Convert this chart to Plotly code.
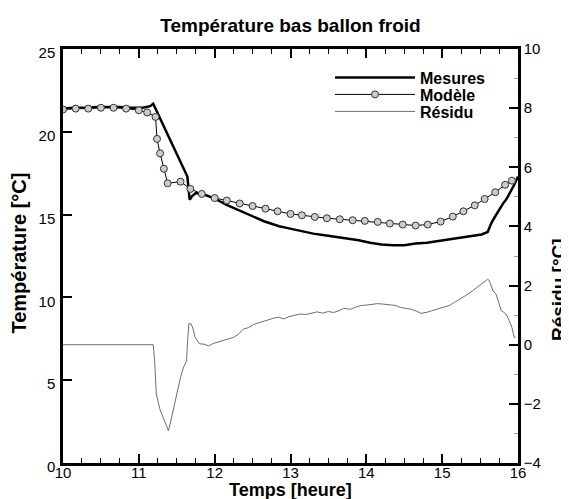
import plotly.graph_objects as go

# Mesures (left axis, °C)
mes_t = [10.0, 10.15, 10.3, 10.45, 10.6, 10.75, 10.9, 11.05, 11.15, 11.19,
         11.25, 11.33, 11.42, 11.5, 11.58, 11.64, 11.67, 11.7, 11.75, 11.8,
         11.87, 11.95, 12.05, 12.15, 12.25, 12.35, 12.45, 12.55, 12.65, 12.75,
         12.85, 12.95, 13.05, 13.15, 13.3, 13.45, 13.6, 13.75, 13.9, 14.05,
         14.2, 14.35, 14.5, 14.65, 14.8, 14.95, 15.1, 15.25, 15.4, 15.52,
         15.6, 15.65, 15.7, 15.75, 15.8, 15.85, 15.9, 15.95, 16.0]
mes_v = [21.4, 21.45, 21.45, 21.5, 21.5, 21.5, 21.45, 21.45, 21.55, 21.7,
         21.1, 20.3, 19.4, 18.6, 17.8, 17.3, 15.9, 16.1, 16.3, 16.25,
         16.2, 16.05, 15.85, 15.6, 15.4, 15.2, 15.0, 14.8, 14.6, 14.45,
         14.3, 14.2, 14.1, 14.0, 13.85, 13.75, 13.65, 13.55, 13.45, 13.3,
         13.2, 13.15, 13.15, 13.25, 13.3, 13.4, 13.5, 13.6, 13.7, 13.8,
         13.95, 14.5, 14.9, 15.3, 15.65, 15.95, 16.35, 16.8, 17.3]

# Modèle (left axis, °C)
mod_t = [10.0, 10.167, 10.333, 10.5, 10.667, 10.833, 11.0, 11.11, 11.22, 11.24,
         11.28, 11.33, 11.38, 11.55, 11.68, 11.83, 12.0, 12.16, 12.33, 12.5,
         12.67, 12.83, 13.0, 13.15, 13.32, 13.48, 13.65, 13.82, 13.98, 14.15,
         14.31, 14.48, 14.65, 14.81, 14.98, 15.14, 15.28, 15.43, 15.56, 15.70,
         15.83, 15.92]
mod_v = [21.35, 21.4, 21.4, 21.45, 21.45, 21.4, 21.3, 21.17, 20.9, 19.57,
         18.7, 17.77, 16.89, 16.99, 16.55, 16.25, 16.0, 15.85, 15.67, 15.52,
         15.36, 15.2, 15.04, 14.96, 14.86, 14.78, 14.72, 14.66, 14.62, 14.56,
         14.46, 14.40, 14.34, 14.40, 14.58, 14.88, 15.2, 15.56, 15.94, 16.35,
         16.8, 17.05]

# Résidu (right axis, °C)
res_t = [10.0, 11.19, 11.21, 11.23, 11.28, 11.35, 11.39, 11.42, 11.46, 11.51,
         11.55, 11.59, 11.63, 11.64, 11.66, 11.69, 11.72, 11.74, 11.77, 11.80,
         11.86, 11.92, 11.98, 12.03, 12.1, 12.16, 12.25, 12.31, 12.38, 12.45,
         12.51, 12.58, 12.65, 12.72, 12.78, 12.85, 12.91, 12.98, 13.05, 13.13,
         13.2, 13.28, 13.35, 13.42, 13.5, 13.57, 13.64, 13.70, 13.79, 13.86,
         13.92, 14.0, 14.08, 14.15, 14.23, 14.3, 14.38, 14.45, 14.52, 14.59,
         14.66, 14.72, 14.8, 14.89, 14.96, 15.03, 15.1, 15.16, 15.22, 15.28,
         15.34, 15.4, 15.46, 15.51, 15.56, 15.60, 15.62, 15.65, 15.67, 15.71,
         15.74, 15.78, 15.81, 15.84, 15.87, 15.89, 15.92, 15.95, 15.97]
res_v = [0, 0, -0.6, -1.66, -2.2, -2.67, -2.91, -2.6, -2.1, -1.6,
         -1.1, -0.76, -0.54, 0.03, 0.72, 0.7, 0.5, 0.25, 0.12, 0.03,
         0.02, -0.04, 0.04, 0.08, 0.12, 0.17, 0.25, 0.35, 0.53, 0.58,
         0.68, 0.74, 0.8, 0.86, 0.9, 0.93, 0.87, 0.95, 1.0, 1.04,
         1.02, 1.08, 1.11, 1.07, 1.12, 1.09, 1.15, 1.23, 1.2, 1.27,
         1.32, 1.34, 1.38, 1.39, 1.37, 1.36, 1.33, 1.26, 1.24, 1.2,
         1.14, 1.06, 1.1, 1.17, 1.2, 1.26, 1.33, 1.43, 1.52, 1.6,
         1.71, 1.82, 1.94, 2.05, 2.15, 2.21, 2.18, 2.0, 1.82, 1.71,
         1.5, 1.15, 1.1, 1.04, 0.9, 0.75, 0.58, 0.25, 0.25]

FONT = "Liberation Sans, Arial, sans-serif"
W, H = 569, 499
ML, MR, MT, MB = 55, 59, 41, 44
PW, PH = W - ML - MR, H - MT - MB

fig = go.Figure()
fig.add_trace(go.Scatter(x=mes_t, y=mes_v, name="<b>Mesures</b>", mode="lines",
                         line=dict(color="black", width=2.5), legend="legend"))
fig.add_trace(go.Scatter(x=mod_t, y=mod_v, name="<b>Modèle</b>", mode="lines+markers",
                         line=dict(color="black", width=1),
                         marker=dict(symbol="circle", size=7, color="#cccccc",
                                     line=dict(color="#333333", width=1)),
                         legend="legend2"))
fig.add_trace(go.Scatter(x=res_t, y=res_v, name="<b>Résidu</b>", mode="lines",
                         line=dict(color="#6e6e6e", width=1), yaxis="y2",
                         legend="legend3"))

axis_common = dict(showgrid=False, zeroline=False, showline=True, linecolor="black",
                   linewidth=2.5, ticks="inside", ticklen=9, tickwidth=2,
                   tickcolor="black", tickfont=dict(family=FONT, size=15, color="black"))

def leg(off):
    return dict(x=(270 - 3) / PW, y=1 - off / PH, xanchor="left", yanchor="middle",
                bgcolor="rgba(0,0,0,0)", itemwidth=80,
                font=dict(family=FONT, size=16, color="black"))

fig.update_layout(
    width=W, height=H,
    margin=dict(l=ML, r=MR, t=MT, b=MB),
    paper_bgcolor="white", plot_bgcolor="white",
    font=dict(family=FONT, color="black"),
    title=dict(text="<b>Température bas ballon froid</b>",
               x=(ML + PW / 2) / W, xanchor="center",
               y=1 - 17 / H, yanchor="middle",
               font=dict(family=FONT, size=19, color="black")),
    xaxis=dict(range=[10, 16], dtick=1, mirror="ticks", ticklabelstandoff=-6,
               minor=dict(dtick=0.25, ticks="inside", ticklen=5, tickwidth=1, tickcolor="black"),
               **axis_common),
    yaxis=dict(range=[0, 25], dtick=5, ticklabelshift=4, ticklabelstandoff=2, **axis_common),
    yaxis2=dict(range=[-4, 10], dtick=2, overlaying="y", side="right",
                minor=dict(dtick=1, ticks="inside", ticklen=4, tickwidth=1, tickcolor="#999999"),
                **axis_common),
    legend=leg(28.5), legend2=leg(45.5), legend3=leg(62.5),
    showlegend=True,
    annotations=[
        dict(text="<b>Temps [heure]</b>", xref="paper", yref="paper", x=0.5, y=0,
             xanchor="center", yanchor="middle", yshift=-27, showarrow=False,
             font=dict(family=FONT, size=18, color="black")),
        dict(text="<b>Température [°C]</b>", xref="paper", yref="y", x=0, y=12.65,
             xanchor="center", yanchor="middle", xshift=11 - ML, textangle=-90,
             showarrow=False, font=dict(family=FONT, size=20, color="black")),
        dict(text="<b>Résidu [°C]</b>", xref="paper", yref="y2", x=1, y=1.85,
             xanchor="center", yanchor="middle", xshift=550 - (ML + PW), textangle=-90,
             showarrow=False, font=dict(family=FONT, size=19, color="black")),
    ],
)

fig.write_html("out.html")
